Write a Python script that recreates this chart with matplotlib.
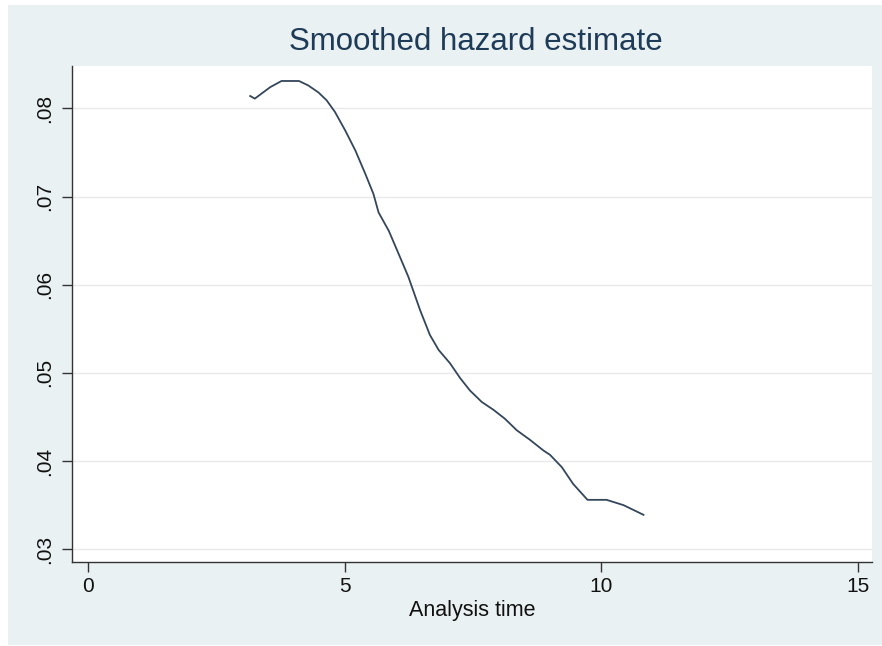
import matplotlib
matplotlib.use("Agg")
import matplotlib.pyplot as plt
from matplotlib.patches import Rectangle

# Smoothed hazard curve (analysis time, hazard)
analysis_time = [3.16, 3.25, 3.55, 3.77, 4.11, 4.29, 4.49, 4.65, 4.81, 5.01,
                 5.21, 5.40, 5.56, 5.66, 5.86, 6.08, 6.24, 6.47, 6.66, 6.83,
                 7.05, 7.25, 7.44, 7.67, 7.90, 8.12, 8.35, 8.61, 8.87, 9.00,
                 9.23, 9.45, 9.73, 10.10, 10.43, 10.82]
hazard = [0.0814, 0.0811, 0.0824, 0.0831, 0.0831, 0.0826, 0.0818, 0.0809, 0.0796, 0.0775,
          0.0752, 0.0726, 0.0703, 0.0682, 0.0661, 0.0631, 0.0609, 0.0571, 0.0543, 0.0526,
          0.0511, 0.0494, 0.0480, 0.0467, 0.0458, 0.0448, 0.0435, 0.0424, 0.0412, 0.0407,
          0.0393, 0.0374, 0.0356, 0.0356, 0.0350, 0.0339]

x_ticks = [0, 5, 10, 15]
x_labels = ["0", "5", "10", "15"]
y_ticks = [0.03, 0.04, 0.05, 0.06, 0.07, 0.08]
y_labels = [".03", ".04", ".05", ".06", ".07", ".08"]

plt.rcParams['font.family'] = ['Liberation Sans', 'DejaVu Sans']

fig = plt.figure(figsize=(8.82, 6.46), dpi=100)
fig.patch.set_facecolor("white")
# graph region background
fig.patches.append(Rectangle((8 / 882, 1 / 646), 874 / 882, 640 / 646,
                             transform=fig.transFigure, facecolor="#eaf1f3",
                             edgecolor="none", zorder=-5))

ax = fig.add_axes([72 / 882, (646 - 562) / 646, 800 / 882, 496 / 646])
ax.set_zorder(2)
ax.set_facecolor("white")

ax.plot(analysis_time, hazard, color="#34465a", linewidth=1.3, zorder=3)

ax.set_xlim(-0.31, 15.27)
ax.set_ylim(0.02855, 0.0848)

ax.set_xticks(x_ticks)
ax.set_xticklabels(x_labels)
ax.set_yticks(y_ticks)
ax.set_yticklabels(y_labels, rotation=90, va="center")

ax.grid(axis="y", color="#eaeaea", linewidth=1.0, zorder=1)
ax.grid(axis="x", visible=False)

for side in ("top", "right"):
    ax.spines[side].set_visible(False)
for side in ("left", "bottom"):
    ax.spines[side].set_color("#333333")
    ax.spines[side].set_linewidth(1.0)

ax.tick_params(axis="both", direction="out", length=7, width=1.0, color="#333333",
               labelsize=15, labelcolor="#111111")
ax.tick_params(axis="x", pad=4)
ax.tick_params(axis="y", pad=6)

ax.set_xlabel("Analysis time", fontsize=15.5, color="#111111", labelpad=3)
fig.text(476 / 882, 1 - 42 / 646, "Smoothed hazard estimate", ha="center", va="center",
         fontsize=22.5, color="#1e3b57")

fig.savefig("out.png", dpi=100, facecolor=fig.get_facecolor())
